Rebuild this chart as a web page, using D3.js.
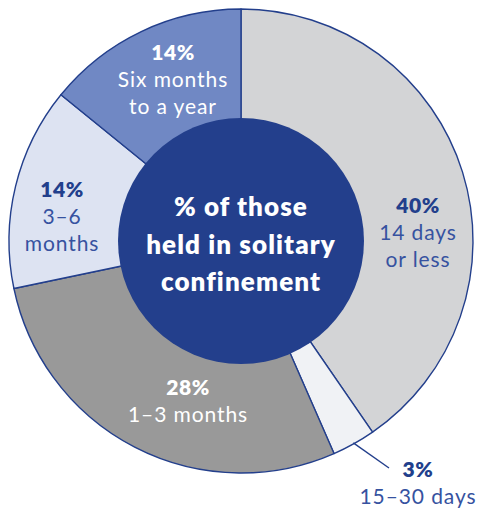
<!DOCTYPE html>
<html>
<head>
<meta charset="utf-8">
<script src="https://cdn.jsdelivr.net/npm/d3@7"></script>
<style>
  html, body { margin: 0; padding: 0; background: #fff; }
  svg { display: block; }
  text { font-family: Lato, "Open Sans", sans-serif; }
</style>
</head>
<body>
<svg id="chart" width="477" height="510"></svg>
<script>
// Share of people held in solitary confinement, by length of stay
const categories = ["14 days or less", "15–30 days", "1–3 months", "3–6 months", "Six months to a year"];
const percents = [40, 3, 28, 14, 14];
const valueLabels = ["40%", "3%", "28%", "14%", "14%"];
const labelLines = [["14 days", "or less"], ["15–30 days"], ["1–3 months"], ["3–6", "months"], ["Six months", "to a year"]];
const centerLines = ["% of those", "held in solitary", "confinement"];

const fills = ["#d3d4d6", "#f0f2f5", "#999999", "#dde3f2", "#7088c4"];
const labelInk = ["#3652a0", "#3652a0", "#ffffff", "#3652a0", "#ffffff"];
const boldInk = ["#223f8c", "#223f8c", "#ffffff", "#223f8c", "#ffffff"];
const navy = "#233f8c";

const cx = 241, cy = 241, outerR = 232, holeR = 123;

const svg = d3.select("#chart");
const g = svg.append("g").attr("transform", `translate(${cx},${cy})`);

const pie = d3.pie().sort(null).value(d => d.value);
const slices = pie(categories.map((c, i) => ({ name: c, value: percents[i], i })));

const arc = d3.arc().innerRadius(0).outerRadius(outerR);

g.selectAll("path.slice")
  .data(slices)
  .join("path")
  .attr("class", "slice")
  .attr("d", arc)
  .attr("fill", d => fills[d.data.i])
  .attr("stroke", navy)
  .attr("stroke-width", 1.4)
  .attr("stroke-linejoin", "round");

// Centre disc
g.append("circle").attr("r", holeR).attr("fill", navy);

// Anchor (baseline of the percentage line) for each label block
const labelPos = [
  { x: 418, y: 213 },
  { x: 418, y: 477 },
  { x: 188, y: 395 },
  { x: 62, y: 197 },
  { x: 173, y: 60 }
];
const lineGap = 27;

slices.forEach(d => {
  const i = d.data.i;
  const p = labelPos[i];
  const t = svg.append("text")
    .attr("text-anchor", "middle")
    .attr("x", p.x)
    .attr("y", p.y);
  t.append("tspan")
    .attr("x", p.x)
    .attr("font-weight", 800)
    .attr("font-size", 21)
    .attr("letter-spacing", 0.6)
    .attr("fill", boldInk[i])
    .text(valueLabels[i]);
  labelLines[i].forEach(ln => {
    t.append("tspan")
      .attr("x", p.x)
      .attr("dy", lineGap)
      .attr("font-weight", 400)
      .attr("font-size", 21)
      .attr("letter-spacing", 0.9)
      .attr("fill", labelInk[i])
      .text(ln);
  });
});

// Leader for the small 15–30 day slice
const small = slices[1];
const mid = (small.startAngle + small.endAngle) / 2;
const lx0 = cx + Math.sin(mid) * (outerR - 1), ly0 = cy - Math.cos(mid) * (outerR - 1);
svg.append("line")
  .attr("x1", lx0).attr("y1", ly0)
  .attr("x2", 389).attr("y2", 468)
  .attr("stroke", navy).attr("stroke-width", 1.4);

// Centre caption
const cap = svg.append("text")
  .attr("text-anchor", "middle")
  .attr("fill", "#ffffff")
  .attr("font-weight", 800)
  .attr("font-size", 26)
  .attr("letter-spacing", 1.1);
centerLines.forEach((ln, k) => {
  cap.append("tspan").attr("x", cx).attr("y", 216 + k * 37.5).text(ln);
});
</script>
</body>
</html>
